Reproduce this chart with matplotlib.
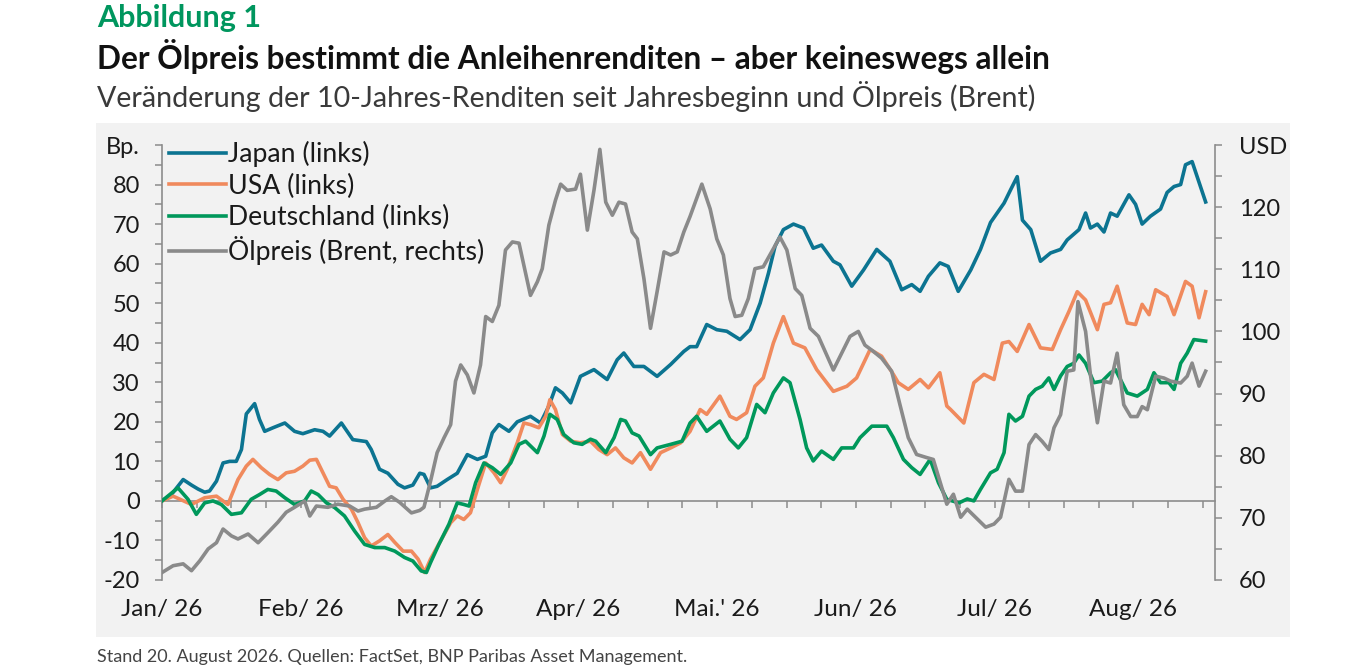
import matplotlib
matplotlib.use("Agg")
import matplotlib.pyplot as plt
from matplotlib.patches import Rectangle
from matplotlib.ticker import MultipleLocator
from matplotlib.lines import Line2D

plt.rcParams['font.family'] = ['Lato', 'DejaVu Sans']

# ---------------- data (x = week index since 1 Jan 2026) ----------------
japan_t = [0.00,0.27,0.61,0.85,1.04,1.23,1.37,1.57,1.76,1.95,2.14,2.29,2.43,2.67,2.81,2.96,3.20,3.54,3.82,4.06,
           4.40,4.64,4.83,5.17,5.50,5.89,6.03,6.27,6.51,6.80,6.99,7.23,7.43,
           7.55,7.74,7.93,8.22,8.51,8.80,9.09,9.33,9.52,9.71,10.00,10.24,10.62,10.91,11.15,11.34,11.54,11.78,12.06,12.45,
           12.83,13.12,13.31,13.60,13.89,14.27,14.66,15.04,
           15.22,15.41,15.70,15.99,16.28,16.66,16.95,17.24,17.48,17.67,17.91,18.20,18.49,18.77,19.01,19.35,19.54,19.88,
           20.22,20.60,20.98,21.32,21.61,21.85,22.09,22.42,22.66,22.95,
           23.31,23.59,23.88,24.27,24.46,24.65,24.80,25.04,25.32,25.61,25.90,26.09,26.43,26.62,26.76,26.96,27.15,27.34,
           27.53,27.87,28.06,28.25,28.49,28.78,28.97,29.17,29.36,29.50,29.69,30.08]
japan_v = [0,1.6,5.4,4.0,3.0,2.2,2.5,5.0,9.6,10.0,10.0,13.0,22.0,24.6,20.6,17.6,18.5,19.7,17.6,17.0,
           18.0,17.6,16.4,19.7,15.5,15.0,13.0,8.0,7.0,4.2,3.3,4.0,7.0,
           6.7,3.3,3.7,5.4,7.0,11.7,10.5,11.3,17.2,19.3,17.6,20.0,21.4,19.7,24.0,28.6,27.3,24.8,31.5,33.2,
           30.7,35.7,37.4,34.0,34.0,31.5,34.5,37.8,
           39.0,39.0,44.6,43.3,42.9,40.8,43.3,50.0,57.6,64.4,68.6,70.0,69.0,63.9,64.7,60.6,59.7,54.3,
           58.4,63.6,60.6,53.4,54.7,53.0,56.8,60.2,59.3,53.0,
           58.4,63.6,70.4,75.3,78.7,82.0,71.0,68.6,60.6,62.7,63.6,66.0,68.6,72.8,69.0,70.0,68.0,72.8,
           72.0,77.4,75.0,70.0,72.0,73.8,78.0,79.5,80.0,85.0,85.8,75.6]

usa_t = [0.00,0.32,0.85,1.23,1.57,1.90,2.19,2.43,2.62,2.86,3.10,3.34,3.58,3.82,4.06,4.26,4.45,4.64,4.83,5.02,
         5.22,5.46,5.65,5.84,6.03,6.27,6.51,6.71,6.95,7.19,7.38,7.57,
         7.74,8.03,8.32,8.51,8.70,8.89,9.09,9.33,9.57,9.76,9.95,10.24,10.43,10.62,10.86,11.06,11.18,11.34,11.54,11.78,
         12.06,12.35,12.59,12.83,13.07,13.31,13.55,13.79,14.08,14.37,14.66,14.95,
         15.22,15.51,15.70,16.08,16.37,16.56,16.85,17.09,17.33,17.62,17.91,18.20,18.53,18.87,19.35,19.74,20.02,20.41,
         20.74,21.08,21.22,21.51,21.85,22.09,22.42,22.62,
         22.73,23.11,23.40,23.69,23.98,24.22,24.41,24.65,24.99,25.32,25.66,25.90,26.14,26.38,26.62,26.96,27.15,27.34,
         27.53,27.82,28.06,28.25,28.45,28.64,28.97,29.17,29.50,29.69,29.89,30.08]
usa_v = [0,1.2,-0.9,0.8,1.2,-0.9,5.4,8.8,10.5,8.4,6.7,5.4,7.1,7.5,8.8,10.3,10.5,7.1,3.7,3.3,
         0.4,-2.1,-5.5,-9.3,-11.4,-10.1,-8.5,-10.5,-12.7,-12.7,-14.7,-18.1,
         -14.7,-10.1,-5.5,-3.8,-4.7,-3.0,2.9,9.6,7.1,4.6,8.0,14.7,19.7,19.3,18.5,21.4,25.6,23.1,16.8,15.1,
         14.7,15.1,13.0,11.7,13.4,10.9,9.6,12.2,8.0,12.2,13.4,14.7,
         17.6,23.1,21.9,26.5,21.4,20.6,22.3,29.0,31.1,39.9,46.6,39.9,38.7,33.2,27.7,29.0,31.1,38.3,
         36.6,32.0,29.9,28.2,30.7,28.6,32.4,24.0,
         23.1,19.7,29.9,32.0,30.7,39.9,40.3,37.8,44.6,38.7,38.3,43.3,47.9,52.9,50.8,43.3,49.7,50.1,
         54.3,45.0,44.6,49.7,47.1,53.4,51.7,47.1,55.5,54.3,46.3,52.9]

de_t = [0.00,0.46,0.75,0.99,1.23,1.47,1.71,2.00,2.29,2.57,2.81,3.05,3.29,3.54,3.82,4.11,4.30,4.50,4.74,4.98,
        5.26,5.55,5.84,6.13,6.42,6.71,6.99,7.23,7.47,7.62,
        7.74,7.98,8.27,8.51,8.70,8.85,9.04,9.28,9.52,9.76,10.05,10.29,10.48,10.82,11.01,11.18,11.39,11.58,11.87,12.11,
        12.35,12.50,12.79,13.03,13.22,13.36,13.55,13.75,14.08,14.27,14.66,14.99,
        15.22,15.41,15.70,16.08,16.37,16.61,16.85,17.14,17.38,17.62,17.91,18.10,18.39,18.58,18.77,19.01,19.35,19.59,
        19.93,20.12,20.46,20.89,21.08,21.37,21.61,21.85,22.14,22.38,22.62,
        22.97,23.21,23.40,23.59,23.88,24.07,24.27,24.41,24.60,24.80,24.99,25.18,25.37,25.56,25.71,25.90,26.09,26.28,
        26.43,26.62,26.86,27.10,27.34,27.48,27.82,28.11,28.40,28.59,28.78,29.02,29.17,29.36,29.55,29.74,30.08]
de_v = [0,3.3,0.4,-3.4,-0.5,0,-0.9,-3.4,-3.0,0.4,1.6,2.9,2.5,0.8,-0.9,0,2.5,1.6,-0.5,-1.7,
        -3.8,-7.6,-11.0,-11.8,-11.8,-12.7,-14.3,-15.2,-17.7,-18.1,
        -15.6,-11.0,-5.9,-0.5,-0.9,-1.3,4.6,9.6,8.4,6.7,9.6,14.3,15.1,12.2,16.4,21.9,20.6,16.8,14.7,14.3,
        15.6,15.1,12.2,16.0,20.6,20.2,17.2,16.4,11.7,13.4,14.3,15.1,
        19.7,21.4,17.6,20.2,15.6,13.4,16.0,24.4,22.3,27.3,31.1,29.9,20.6,13.4,10.1,12.6,10.5,13.4,
        13.4,16.0,18.9,18.9,16.0,10.5,8.4,6.7,10.5,4.6,0.4,
        -0.5,0.5,0,2.9,7.1,8.0,12.2,21.9,20.2,21.4,26.5,28.2,29.0,31.1,28.2,31.6,34.0,34.8,
        36.9,34.8,29.9,30.3,32.4,33.2,27.3,26.5,28.2,32.4,29.9,29.9,28.2,34.8,37.4,40.8,40.4]

oil_t = [0.00,0.32,0.61,0.85,1.09,1.33,1.57,1.76,2.00,2.19,2.48,2.77,3.05,3.34,3.58,3.82,4.11,4.26,4.45,4.78,
         5.07,5.41,5.65,5.84,6.18,6.42,6.61,6.85,7.19,7.43,
         7.55,7.74,7.93,8.13,8.32,8.46,8.61,8.80,8.99,9.18,9.33,9.52,9.71,9.90,10.10,10.29,10.62,10.82,10.96,11.15,
         11.34,11.49,11.68,11.92,12.06,12.26,12.45,12.62,12.79,12.98,13.17,13.36,13.55,13.70,13.89,14.08,14.27,14.47,
         14.66,14.85,15.04,
         15.22,15.56,15.80,15.99,16.18,16.37,16.52,16.71,16.90,17.09,17.33,17.57,17.81,18.01,18.25,18.44,18.68,18.92,
         19.16,19.35,19.59,19.83,20.07,20.26,20.50,20.74,21.03,21.27,21.51,21.75,22.04,22.23,22.42,22.62,22.81,
         23.02,23.21,23.50,23.74,23.98,24.17,24.41,24.60,24.80,24.99,25.18,25.37,25.56,25.71,25.90,26.09,26.28,26.40,
         26.62,26.76,26.96,27.15,27.34,27.53,27.72,27.92,28.11,28.25,28.40,28.64,28.88,29.07,29.36,29.55,29.69,29.89,
         30.08]
oil_v = [61.2,62.3,62.6,61.5,63.1,65.0,66.0,68.2,67.1,66.6,67.4,66.0,67.6,69.3,70.9,71.7,72.7,70.3,71.9,71.7,
         72.2,71.9,71.1,71.4,71.7,72.7,73.4,72.5,70.8,71.2,
         71.7,75.9,80.5,82.9,85.0,92.0,94.6,93.0,90.1,94.6,102.4,101.6,104.2,113.1,114.4,114.2,105.8,108.0,110.1,117.1,
         121.1,123.7,122.7,122.9,125.3,116.3,122.7,129.3,120.8,118.7,120.8,120.5,116.0,114.9,108.5,100.5,106.4,112.8,
         112.3,112.8,116.0,
         118.5,123.7,119.7,114.9,112.3,105.3,102.4,102.6,105.3,110.1,110.4,112.8,115.2,113.1,106.9,105.8,100.5,99.2,
         96.2,93.8,96.5,99.2,100.0,97.8,96.8,95.7,93.6,88.2,82.9,80.2,79.7,79.4,75.9,72.2,73.8,
         70.1,71.4,69.8,68.5,69.0,70.1,76.2,74.3,74.3,81.8,83.4,82.3,81.0,84.5,86.6,93.6,93.8,104.8,
         100.0,93.0,85.3,92.0,91.7,96.5,88.2,86.3,86.3,87.9,87.4,92.8,92.5,92.0,91.7,92.8,94.9,91.2,
         93.6]

month_pos = [0, 4, 8, 12, 16, 20, 24, 28]
month_labels = ["Jan/ 26", "Feb/ 26", "Mrz/ 26", "Apr/ 26", "Mai.' 26", "Jun/ 26", "Jul/ 26", "Aug/ 26"]
left_ticks = [-20, -10, 0, 10, 20, 30, 40, 50, 60, 70, 80, 90]
left_labels = ["-20", "-10", "0", "10", "20", "30", "40", "50", "60", "70", "80", "Bp."]
right_ticks = [60, 70, 80, 90, 100, 110, 120, 130]
right_labels = ["60", "70", "80", "90", "100", "110", "120", "USD"]
series_names = ["Japan (links)", "USA (links)", "Deutschland (links)", "Ölpreis (Brent, rechts)"]

# ---------------- styling ----------------
C_JP = "#0c7491"
C_US = "#f08a5d"
C_DE = "#00985b"
C_OIL = "#8a8a8a"
C_AX = "#8c8c8c"
C_TXT = "#1a1a1a"
LW = 2.6
TICK_FS = 17

W, H = 1350, 670
fig = plt.figure(figsize=(W / 100, H / 100), dpi=100)
fig.patch.set_facecolor("white")
fig.patches.append(Rectangle((96 / W, 1 - 637 / H), (1290 - 96) / W, (637 - 123) / H,
                             transform=fig.transFigure, facecolor="#f2f2f2", edgecolor="none", zorder=-10))

fig.text(97 / W, 1 - 18 / H, "Abbildung 1", color="#00965e", fontsize=22, fontweight="bold", va="center", ha="left")
fig.text(97 / W, 1 - 57 / H, "Der Ölpreis bestimmt die Anleihenrenditen – aber keineswegs allein",
         color="#111111", fontsize=22.8, fontweight="bold", va="center", ha="left")
fig.text(97 / W, 1 - 96 / H, "Veränderung der 10-Jahres-Renditen seit Jahresbeginn und Ölpreis (Brent)",
         color="#3a3a3a", fontsize=20.6, fontweight="normal", va="center", ha="left")
fig.text(97 / W, 1 - 657 / H, "Stand 20. August 2026. Quellen: FactSet, BNP Paribas Asset Management.",
         color="#444444", fontsize=13, fontweight="normal", va="center", ha="left")

ax = fig.add_axes([162 / W, 1 - 580 / H, (1215 - 162) / W, (580 - 145) / H])
ax.set_facecolor("none")
ax2 = ax.twinx()

ax.plot(japan_t, japan_v, color=C_JP, lw=LW, solid_joinstyle="round", zorder=3)
ax.plot(usa_t, usa_v, color=C_US, lw=LW, solid_joinstyle="round", zorder=3)
ax.plot(de_t, de_v, color=C_DE, lw=LW, solid_joinstyle="round", zorder=4)
ax2.plot(oil_t, oil_v, color=C_OIL, lw=LW, solid_joinstyle="round", zorder=3)

ax.set_xlim(0, 30.35)
ax.set_ylim(-20, 90)
ax2.set_ylim(60, 130)

for s in ["top", "right"]:
    ax.spines[s].set_visible(False)
for s in ["top", "left", "bottom"]:
    ax2.spines[s].set_visible(False)
ax.spines["bottom"].set_position(("data", 0))
for sp in [ax.spines["left"], ax.spines["bottom"], ax2.spines["right"]]:
    sp.set_color(C_AX)
    sp.set_linewidth(1.2)

ax.set_yticks(left_ticks)
ax.set_yticklabels(left_labels)
ax.yaxis.set_minor_locator(MultipleLocator(5))
ax.tick_params(axis="y", which="both", direction="out", length=5, width=1.1, color=C_AX,
               labelsize=TICK_FS, labelcolor=C_TXT, pad=11)

ax2.set_yticks(right_ticks)
ax2.set_yticklabels(right_labels)
ax2.yaxis.set_minor_locator(MultipleLocator(5))
ax2.tick_params(axis="y", which="both", direction="out", length=5, width=1.1, color=C_AX,
                labelsize=TICK_FS, labelcolor=C_TXT, pad=12)

ax.set_xticks(range(0, 31))
ax.tick_params(axis="x", which="both", direction="out", length=5, width=1.1, color=C_AX, labelbottom=False)

sec = ax.secondary_xaxis("bottom")
sec.set_xticks(month_pos)
sec.set_xticklabels(month_labels)
sec.tick_params(axis="x", length=0, pad=14, labelsize=TICK_FS + 0.5, labelcolor=C_TXT)
sec.spines["bottom"].set_visible(False)

handles = [Line2D([], [], color=c, lw=LW) for c in (C_JP, C_US, C_DE, C_OIL)]
leg = ax2.legend(handles, series_names, loc="upper left",
                 bbox_to_anchor=(169 / W, 1 - 141 / H), bbox_transform=fig.transFigure,
                 frameon=False, fontsize=19.2, handlelength=2.15, handletextpad=0.05,
                 labelspacing=0.24, borderpad=0, borderaxespad=0)
for t in leg.get_texts():
    t.set_color(C_TXT)

fig.savefig("out.png", dpi=100, facecolor="white")
